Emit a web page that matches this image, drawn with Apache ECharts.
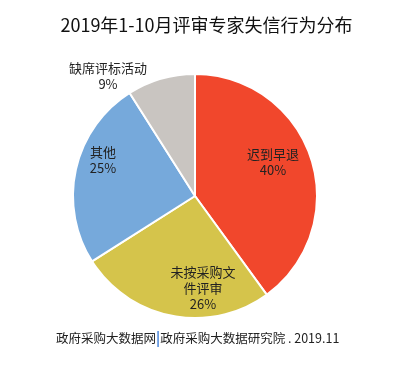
<!DOCTYPE html>
<html><head><meta charset="utf-8">
<script src="https://cdn.jsdelivr.net/npm/echarts@6/dist/echarts.min.js"></script>
<style>html,body{margin:0;padding:0;background:#fff}#c{width:413px;height:365px}</style>
</head><body><div id="c"></div>
<script>
const categories = ['迟到早退', '未按采购文\n件评审', '其他', '缺席评标活动'];
const values = [40, 26, 25, 9];
const colors = ['#F1472C', '#D5C44B', '#76A9DB', '#C9C5C1'];
const labelPos = [[273, 162], [203, 288], [103, 160], [108, 76]];
const titleText = '2019年1-10月评审专家失信行为分布';

const chart = echarts.init(document.getElementById('c'));
const font = '"Noto Sans CJK SC", sans-serif';
chart.setOption({
  animation: false,
  title: {
    text: titleText, left: 'center', top: 11,
    textStyle: { fontFamily: font, fontSize: 18, fontWeight: 'normal', color: '#111' }
  },
  series: [{
    type: 'pie',
    center: [195, 196],
    radius: 122,
    startAngle: 90,
    clockwise: true,
    data: categories.map((n, i) => ({ name: n, value: values[i], itemStyle: { color: colors[i] } })),
    itemStyle: { borderColor: '#fff', borderWidth: 2 },
    label: {
      position: 'inside',
      formatter: p => p.name + '\n' + p.value + '%',
      fontFamily: font, fontSize: 13, color: '#222', lineHeight: 16
    },
    labelLine: { show: false },
    labelLayout: p => ({ x: labelPos[p.dataIndex][0], y: labelPos[p.dataIndex][1], align: 'center', verticalAlign: 'middle' })
  }],
  graphic: [{
    type: 'text', left: 56, top: 331,
    style: {
      text: '{a|政府采购大数据网}{b||}{a|政府采购大数据研究院 . 2019.11}',
      rich: {
        a: { fontFamily: font, fontSize: 12.5, fill: '#222' },
        b: { fontFamily: font, fontSize: 14, fill: '#3B7DD8', fontWeight: 'bold' }
      }
    }
  }]
});
</script></body></html>
